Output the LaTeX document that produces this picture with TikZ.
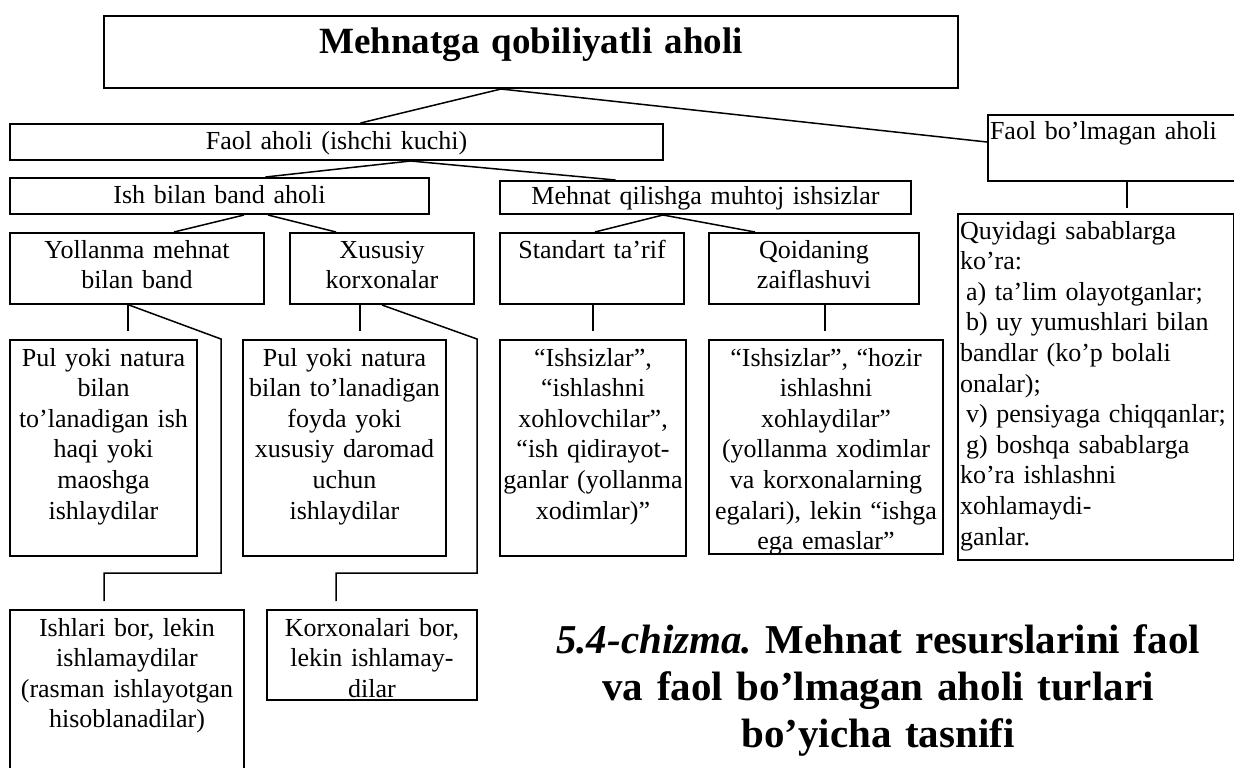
\documentclass[tikz,border=0pt]{standalone}
\usepackage{fontspec}
\setmainfont{Liberation Serif}
\frenchspacing

\newcommand{\boxfont}{\fontsize{13}{15.3}\selectfont}
\newcommand{\titlefont}{\fontsize{18.5}{22}\selectfont\bfseries}
\newcommand{\capfont}{\fontsize{20.5}{23.5}\selectfont\bfseries}

\tikzset{
	%Define style for boxes (width, text depth)
	cell/.style 2 args={
		draw=black, line width=1pt,
		anchor=north west,
		inner xsep=0pt, inner ysep=0pt,
		text width=#1, minimum width=#1,
		text height=12.5pt, text depth=#2,
		align=center,
		font=\boxfont},
	% Define line styles
	link/.style={
		line width=0.75pt},
	stub/.style={
		line width=0.75pt,
		shorten >=4pt}
}

\begin{document}
\begin{tikzpicture}[x=0.5pt, y=-0.5pt]
	
	\clip (0,0) rectangle (1234,767);
	
	\node[cell={427pt}{17.5pt}, text height=18.5pt, font=\titlefont] (total) at (103,15) {Mehnatga qobiliyatli aholi};
	\node[cell={326.5pt}{5.5pt}] (faol) at (9,123) {Faol aholi (ishchi kuchi)};
	\node[cell={124.5pt}{21pt}, inner xsep=1pt, align=left, text height=12pt] (nofaol) at (987,114) {Faol bo’lmagan aholi};
	\node[cell={209.5pt}{5.5pt}] (band) at (9,177) {Ish bilan band aholi};
	\node[cell={205.5pt}{5pt}, text height=11.5pt] (muhtoj) at (499,180) {Mehnat qilishga muhtoj ishsizlar};
	
	\node[cell={127pt}{23pt}] (yollanma) at (9,232) {Yollanma mehnat\\bilan band};
	\node[cell={92pt}{23pt}] (xususiy) at (289,232) {Xususiy\\korxonalar};
	\node[cell={92pt}{23pt}] (standart) at (499,232) {Standart ta’rif};
	\node[cell={105pt}{23pt}] (qoida) at (708,232) {Qoidaning\\zaiflashuvi};
	
	\node[cell={93.5pt}{95pt}, text height=13pt] (pul1) at (9,339) {Pul yoki natura\\bilan\\to’lanadigan ish\\haqi yoki\\maoshga\\ishlaydilar};
	\node[cell={101.5pt}{95pt}, text height=13pt] (pul2) at (242,339) {Pul yoki natura\\bilan to’lanadigan\\foyda yoki\\xususiy daromad\\uchun\\ishlaydilar};
	\node[cell={93pt}{95pt}, text height=13pt] (ishsiz1) at (499,339) {“Ishsizlar”,\\“ishlashni\\xohlovchilar”,\\“ish qidirayot-\\ganlar (yollanma\\xodimlar)”};
	\node[cell={117pt}{94pt}, text height=13pt] (ishsiz2) at (708,339) {“Ishsizlar”, “hozir\\ishlashni\\xohlaydilar”\\(yollanma xodimlar\\va korxonalarning\\egalari), lekin “ishga\\ega emaslar”};
	\node[cell={136pt}{160.5pt}, inner xsep=1pt, align=left] (sabab) at (957,213) {Quyidagi sabablarga\\ko’ra:\\\hspace*{3pt}a) ta’lim olayotganlar;\\\hspace*{3pt}b) uy yumushlari bilan\\bandlar (ko’p bolali\\onalar);\\\hspace*{3pt}v) pensiyaga chiqqanlar;\\\hspace*{3pt}g) boshqa sabablarga\\ko’ra ishlashni\\xohlamaydi-\\ganlar.};
	
	\node[cell={117pt}{87pt}, text height=13pt] (ishlari) at (9,609) {Ishlari bor, lekin\\ishlamaydilar\\(rasman ishlayotgan\\hisoblanadilar)};
	\node[cell={105pt}{32pt}, text height=13pt] (korxona) at (266,609) {Korxonalari bor,\\lekin ishlamay-\\dilar};
	
	\node[font=\capfont, align=center, text width=340pt, anchor=base, inner sep=0pt] (caption) at (878,653) {\textit{5.4-chizma.} Mehnat resurslarini faol\\va faol bo’lmagan aholi turlari\\bo’yicha tasnifi};
	
	% connectors
	\draw[link] ([xshift=-15pt]total.south) -- ([xshift=12pt]faol.north);
	\draw[link] ([xshift=-15pt]total.south) -- ([yshift=3pt]nofaol.west);
	\draw[link] ([xshift=37pt]faol.south) -- ([xshift=23pt]band.north);
	\draw[link] ([xshift=37pt]faol.south) -- ([xshift=-45pt]muhtoj.north);
	\draw[link] ([xshift=12.25pt]band.south) -- ([xshift=18.5pt]yollanma.north);
	\draw[link] ([xshift=24.25pt]band.south) -- ([xshift=-23pt]xususiy.north);
	\draw[link] ([xshift=-21.25pt]muhtoj.south) -- ([xshift=1.5pt]standart.north);
	\draw[link] ([xshift=-21.25pt]muhtoj.south) -- ([xshift=-29.5pt]qoida.north);
	
	\draw[stub] ([xshift=-4.5pt]yollanma.south) -- ([xshift=-4.5pt]yollanma.south |- pul1.north);
	\draw[stub] ([xshift=-11pt]xususiy.south) -- ([xshift=-11pt]xususiy.south |- pul2.north);
	\draw[stub] ([xshift=0.5pt]standart.south) -- ([xshift=0.5pt]standart.south |- ishsiz1.north);
	\draw[stub] ([xshift=5.5pt]qoida.south) -- ([xshift=5.5pt]qoida.south |- ishsiz2.north);
	\draw[stub, shorten >=2.5pt] ([xshift=70pt]nofaol.south west) -- ([xshift=70pt]nofaol.south west |- sabab.north);
	
	\draw[link] ([xshift=-4pt]yollanma.south) -- ([xshift=11.5pt]pul1.north east) -- ++(0,234) -| ([xshift=-11.5pt,yshift=4pt]ishlari.north);
	\draw[link] (xususiy.south) -- ([xshift=15pt]pul2.north east) -- ++(0,234) -| ([xshift=-18pt,yshift=4pt]korxona.north);
	
\end{tikzpicture}
\end{document}
